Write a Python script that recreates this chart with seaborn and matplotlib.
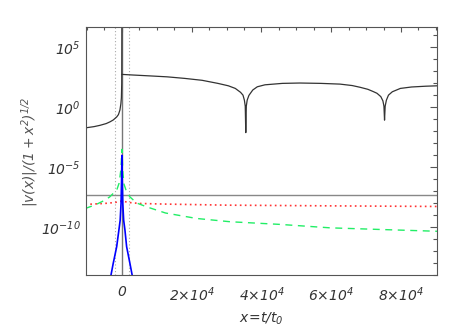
import numpy as np
import pandas as pd
import matplotlib
matplotlib.use("Agg")
import matplotlib.pyplot as plt
import seaborn as sns
from matplotlib.ticker import FixedLocator, NullFormatter

# black curve, left of x=0 (rises to infinity at 0)
black_left_x = [-10300, -8000, -6300, -4500, -3400, -2500, -1500, -1000, -570, -300, -150, -50, -5]
black_left_y = [2.0e-2, 2.5e-2, 3.2e-2, 4.5e-2, 6.3e-2, 8.9e-2, 0.16, 0.25, 0.6, 2.0, 6.3, 100, 1e7]

# black curve, right of x=0 (two cusps)
black_right_x = [0, 3000, 8000, 13000, 18000, 23000, 27500, 30500, 32500, 34000, 34700,
                 35100, 35350, 35500, 35650, 35900, 36400, 37500, 38800, 41000, 46000,
                 51000, 57000, 62500, 66000, 68300, 70500, 72000, 73100, 74200, 74800,
                 75100, 75270, 75450, 75800, 76400, 77500, 79800, 83000, 87000, 90500]
black_right_y = [560, 500, 420, 350, 260, 180, 100, 63, 38, 18, 10.5,
                 4.0, 1.26, 7.9e-3, 1.26, 4.0, 10, 28, 52, 76, 100,
                 107, 100, 87, 66, 47, 32, 21, 15, 7.9, 3.5,
                 1.26, 8.7e-2, 1.26, 4.0, 10.5, 20, 38, 50, 58, 63]

# green dashed
green_x = [-10500, -7500, -5000, -3500, -2500, -1500, -800, -300, 0, 300, 600, 1300, 2300,
           4200, 7100, 12500, 21430, 31000, 45300, 59700, 74000, 90500]
green_y = [3.8e-9, 7.9e-9, 1.8e-8, 3.5e-8, 6.8e-8, 1.26e-7, 5e-7, 6.3e-6, 3.2e-4, 3.2e-6, 4e-7,
           1e-7, 3.5e-8, 1.1e-8, 5.2e-9, 1.6e-9, 5.6e-10, 3.0e-10, 1.8e-10, 9.3e-11, 6.8e-11, 4.8e-11]

# red dotted
red_x = [-10500, -5000, -2000, 0, 2000, 5000, 12000, 30000, 60000, 90500]
red_y = [8.3e-9, 1.0e-8, 1.2e-8, 1.6e-8, 1.2e-8, 1.0e-8, 8.9e-9, 7.2e-9, 6.3e-9, 5.6e-9]

# blue, narrow peak at 0
blue_x = [-3500, -2500, -1500, -860, -500, -250, -100, 0, 100, 250, 500, 860, 1350, 2300, 3300]
blue_y = [3e-15, 1e-13, 2.5e-12, 6.3e-11, 4e-10, 1e-8, 1e-6, 1e-4, 1e-6, 1e-8, 4e-10, 6.3e-11,
          2.5e-12, 1e-13, 3e-15]

gray_level = 5e-8
dotted_x = [-2000, 2000]

x_ticks = [0, 2e4, 4e4, 6e4, 8e4]
x_labels = [r'$0$', r'$2{\times}10^{4}$', r'$4{\times}10^{4}$', r'$6{\times}10^{4}$', r'$8{\times}10^{4}$']
y_ticks = [1e5, 1e0, 1e-5, 1e-10]
y_labels = [r'$10^{5}$', r'$10^{0}$', r'$10^{-5}$', r'$10^{-10}$']

sns.set_style("white")
plt.rcParams['font.family'] = ['DejaVu Sans']
plt.rcParams['mathtext.fontset'] = 'custom'
plt.rcParams['mathtext.rm'] = 'DejaVu Sans:italic'
plt.rcParams['mathtext.it'] = 'DejaVu Sans:italic'

fig = plt.figure(figsize=(4.63, 3.31), dpi=100)
ax = fig.add_axes([0.1857, 0.1677, 0.7581, 0.7498])

def draw(xs, ys, **kw):
    df = pd.DataFrame({'x': xs, 'y': ys})
    sns.lineplot(data=df, x='x', y='y', sort=False, estimator=None, ax=ax, **kw)

ax.set_yscale('log')
for xv in dotted_x:
    ax.axvline(xv, color='#aaaaaa', lw=0.8, ls=(0, (1, 2)))
ax.axhline(gray_level, color='#888888', lw=1.0)
ax.axvline(0, color='#777777', lw=1.0)
draw(black_left_x, black_left_y, color='#333333', lw=0.9)
draw(black_right_x, black_right_y, color='#333333', lw=0.9)
draw(red_x, red_y, color='#ff3333', lw=1.2, linestyle=(0, (1, 2)))
draw(green_x, green_y, color='#22ee66', lw=1.0, linestyle=(0, (5, 4)))
draw(blue_x, blue_y, color='#0000ff', lw=1.2)

ax.set_xlim(-10300, 90300)
ax.set_ylim(1e-14, 10**6.67)

ax.xaxis.set_major_locator(FixedLocator(x_ticks))
ax.set_xticklabels(x_labels)
ax.xaxis.set_minor_locator(FixedLocator(np.arange(-10000, 90001, 5000)))
ax.xaxis.set_minor_formatter(NullFormatter())
ax.yaxis.set_major_locator(FixedLocator(y_ticks))
ax.set_yticklabels(y_labels)
ax.yaxis.set_minor_locator(FixedLocator([10.0**k for k in range(-14, 7)]))
ax.yaxis.set_minor_formatter(NullFormatter())

ax.tick_params(axis='both', which='both', direction='in', top=True, right=True,
               colors='#555555', labelcolor='#333333', labelsize=10, width=0.8)
ax.tick_params(axis='x', which='major', length=3.6, pad=7)
ax.tick_params(axis='x', which='minor', length=2.2)
ax.tick_params(axis='y', which='major', length=5.0, pad=4)
ax.tick_params(axis='y', which='minor', length=3.0)
for s in ax.spines.values():
    s.set_color('#555555')
    s.set_linewidth(0.8)

ax.set_xlabel(r'$x\!=\!t/t_0$', fontsize=10, color='#333333', labelpad=5)
ax.set_ylabel(r'$|v(x)|/(1+x^2)^{1/2}$', fontsize=10, color='#555555', labelpad=0)

fig.savefig('out.png', dpi=100)
